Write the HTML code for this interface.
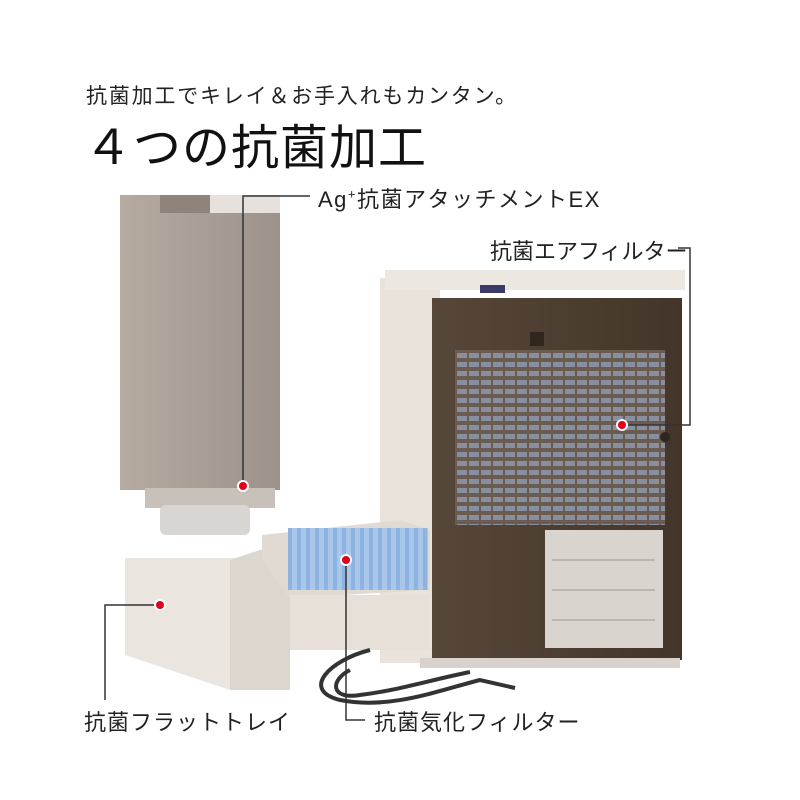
<!DOCTYPE html>
<html><head><meta charset="utf-8"><style>
body{margin:0;background:#fff;}
.w{position:relative;width:800px;height:800px;overflow:hidden;font-family:"Liberation Sans","Noto Sans CJK JP",sans-serif;color:#222;}
.t{position:absolute;white-space:nowrap;}
</style></head><body><div class="w">
<svg width="800" height="800" style="position:absolute;left:0;top:0">
<defs>
<linearGradient id="tank" x1="0" x2="1"><stop offset="0" stop-color="#b5aba1"/><stop offset="1" stop-color="#9d928a"/></linearGradient>
<linearGradient id="front" x1="0" x2="1"><stop offset="0" stop-color="#564739"/><stop offset="1" stop-color="#433529"/></linearGradient>
<pattern id="grille" width="12" height="9" patternUnits="userSpaceOnUse"><rect width="12" height="9" fill="#6a5c50"/><rect x="1" y="2" width="10" height="5" fill="#8a8fa0"/></pattern>
<pattern id="fins" width="9" height="14" patternUnits="userSpaceOnUse"><rect width="9" height="14" fill="#a9c7ea"/><rect x="0" y="0" width="4" height="14" fill="#8fb3df"/></pattern>
</defs>
<rect x="120" y="195" width="160" height="295" fill="url(#tank)"/>
<rect x="160" y="195" width="50" height="18" fill="#8e847b"/>
<rect x="210" y="195" width="70" height="18" fill="#e6e1dc"/>
<rect x="145" y="488" width="130" height="20" fill="#c8c1b9"/>
<rect x="160" y="505" width="90" height="30" rx="6" fill="#d8d6d3"/>
<rect x="380" y="278" width="60" height="385" fill="#e9e3dc"/>
<rect x="385" y="270" width="300" height="20" fill="#ece7e1"/>
<rect x="480" y="285" width="25" height="8" fill="#3b3b6a"/>
<rect x="432" y="298" width="250" height="362" fill="url(#front)"/>
<rect x="455" y="350" width="210" height="175" fill="url(#grille)"/>
<rect x="545" y="530" width="118" height="118" fill="#d9d4ce"/>
<g stroke="#999" stroke-width="1"><line x1="552" y1="560" x2="655" y2="560"/><line x1="552" y1="590" x2="655" y2="590"/><line x1="552" y1="620" x2="655" y2="620"/></g>
<rect x="530" y="332" width="14" height="14" fill="#2e261f"/>
<circle cx="665" cy="437" r="5" fill="#2e261f"/>
<rect x="420" y="658" width="260" height="10" fill="#d8d2cb"/>
<polygon points="125,558 245,558 290,540 290,690 230,690 125,655" fill="#ebe5df"/>
<polygon points="230,560 290,540 290,690 230,690" fill="#ddd6ce"/>
<polygon points="262,535 400,520 430,530 430,590 290,598 262,560" fill="#e0dad3"/>
<rect x="288" y="528" width="140" height="62" fill="url(#fins)"/>
<rect x="290" y="595" width="140" height="55" fill="#e6e0d9"/>
<path d="M370 650 C330 660 300 690 340 700 C390 710 440 690 480 680 L515 688" stroke="#333" stroke-width="4" fill="none"/>
<path d="M350 670 C330 680 330 700 360 695 C400 690 430 680 470 672" stroke="#333" stroke-width="4" fill="none"/>
<g stroke="#333" stroke-width="1.5" fill="none">
<polyline points="310,196 243,196 243,486"/>
<polyline points="678,248 690,248 690,425 622,425"/>
<polyline points="160,605 105,605 105,700"/>
<polyline points="346,560 346,720 365,720"/>
</g>
<g fill="#e0001b" stroke="#fff" stroke-width="2">
<circle cx="243" cy="486" r="5"/><circle cx="622" cy="425" r="5"/><circle cx="160" cy="605" r="5"/><circle cx="346" cy="560" r="5"/>
</g>
</svg>
<div class="t" style="left:86px;top:80px;font-size:21px;letter-spacing:1.8px">抗菌加工でキレイ＆お手入れもカンタン。</div>
<div class="t" style="left:84px;top:108px;font-size:48px;letter-spacing:1px;color:#111">４つの抗菌加工</div>
<div class="t" style="left:318px;top:182px;font-size:22px;letter-spacing:1.5px">Ag<sup style="font-size:13px">+</sup>抗菌アタッチメントEX</div>
<div class="t" style="left:490px;top:234px;font-size:22px;letter-spacing:0px">抗菌エアフィルター</div>
<div class="t" style="left:84px;top:705px;font-size:22px;letter-spacing:1px">抗菌フラットトレイ</div>
<div class="t" style="left:374px;top:705px;font-size:22px;letter-spacing:1px">抗菌気化フィルター</div>
</div></body></html>
